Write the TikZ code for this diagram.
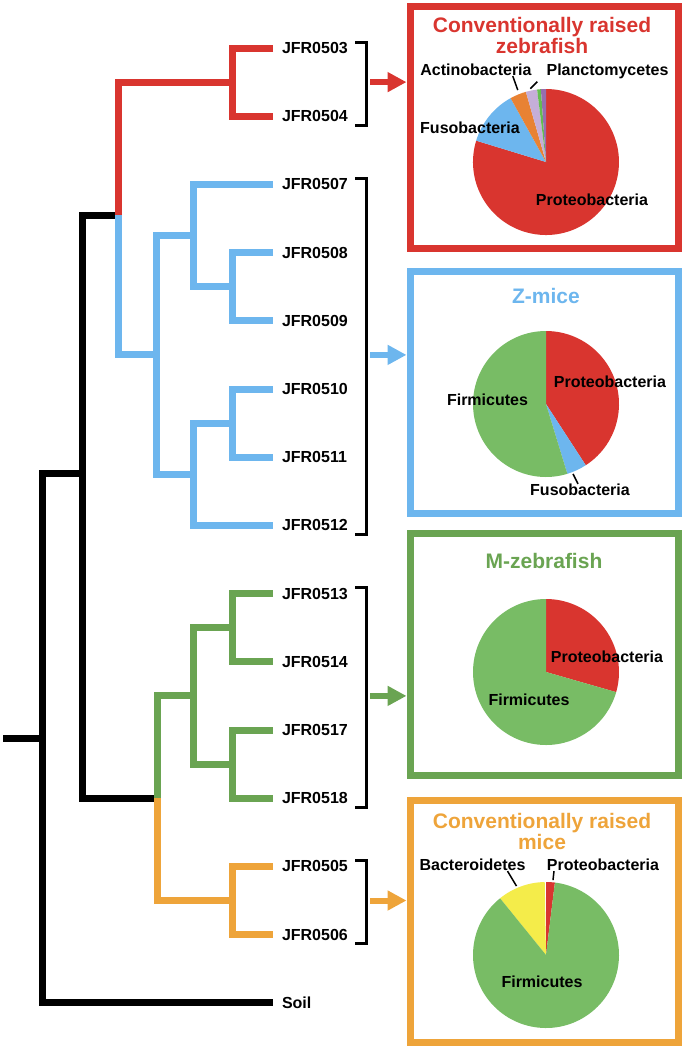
\documentclass[tikz,border=0pt]{standalone}
\usepackage{fontspec}
\setmainfont{Liberation Sans}
\usetikzlibrary{arrows.meta}
\definecolor{treered}{RGB}{217,53,47}
\definecolor{treeblue}{RGB}{109,182,238}
\definecolor{treegreen}{RGB}{106,164,82}
\definecolor{treeorange}{RGB}{238,164,58}
\definecolor{piegreen}{RGB}{120,188,101}
\definecolor{pieorange}{RGB}{232,130,52}
\definecolor{pieyellow}{RGB}{244,236,74}
\definecolor{pielilac}{RGB}{197,174,216}
\definecolor{piepurple}{RGB}{150,110,175}
\definecolor{piesmall}{RGB}{100,190,80}
% slice of a pie: centre, from, to (degrees, counter-clockwise), colour
\newcommand{\pieslice}[4]{\fill[#4] (#1) -- ++({-(#2)}:73) arc[start angle={-(#2)}, end angle={-(#3)}, radius=73] -- cycle;}

\begin{document}
\begin{tikzpicture}[x=1pt, y=-1pt,
    br/.style={line width=7pt, line join=miter},
    leaf/.style={anchor=west, inner xsep=9pt, inner ysep=0pt, outer sep=0pt,
                 font=\fontsize{16}{19}\selectfont\bfseries},
    brk/.style={line width=3pt, line join=miter},
    arr/.style={line width=6pt, -{Triangle[length=19pt, width=19pt]}},
    panel/.style={rectangle, line width=7pt, minimum width=268pt,
                  minimum height=242pt, inner sep=0pt},
    ttl/.style={font=\fontsize{21}{21}\selectfont\bfseries, align=center, inner sep=0pt},
    plab/.style={font=\fontsize{16}{19}\selectfont\bfseries, inner sep=0pt},
    lead/.style={line width=1.5pt}
]
\useasboundingbox (0,0) rectangle (686,1050);
% leaves
\foreach \lab/\k in {JFR0503/0, JFR0504/1, JFR0507/2, JFR0508/3, JFR0509/4,
                     JFR0510/5, JFR0511/6, JFR0512/7, JFR0513/8, JFR0514/9,
                     JFR0517/10, JFR0518/11, JFR0505/12, JFR0506/13, Soil/14}{
    \node[leaf] (L\k) at (273,{48+68.2*\k}) {\lab};
}
% inner nodes
\coordinate (r1) at (232,82.1);
\coordinate (b1) at (232,286.7);
\coordinate (b2) at (193,235.5);
\coordinate (b3) at (232,423.1);
\coordinate (b4) at (193,474.3);
\coordinate (b5) at (156,354.9);
\coordinate (g1) at (232,627.7);
\coordinate (g2) at (232,764.1);
\coordinate (g3) at (193,695.9);
\coordinate (o1) at (232,900.5);
\coordinate (k1) at (118,215);
\coordinate (k2) at (157,798.2);
\coordinate (k3) at (82,473);
\coordinate (k4) at (42,738);
\coordinate (root) at (3,738);
% black backbone
\draw[br] (k1) -| (k3) |- (k2);
\draw[br] (k3) -| (k4) |- (L14.west);
\draw[br] (root) -- (k4);
% red clade
\draw[br, treered] (L0.west) -| (r1) |- (L1.west);
\draw[br, treered] (r1) -| (k1);
% blue clade
\draw[br, treeblue] (L3.west) -| (b1) |- (L4.west);
\draw[br, treeblue] (L2.west) -| (b2) |- (b1);
\draw[br, treeblue] (L5.west) -| (b3) |- (L6.west);
\draw[br, treeblue] (b3) -| (b4) |- (L7.west);
\draw[br, treeblue] (b2) -| (b5) |- (b4);
\draw[br, treeblue] (b5) -| (k1);
% green clade
\draw[br, treegreen] (L8.west) -| (g1) |- (L9.west);
\draw[br, treegreen] (L10.west) -| (g2) |- (L11.west);
\draw[br, treegreen] (g1) -| (g3) |- (g2);
\draw[br, treegreen] (g3) -| (k2);
% orange clade
\draw[br, treeorange] (L12.west) -| (o1) |- (L13.west);
\draw[br, treeorange] (o1) -| (k2);
% brackets
\foreach \a/\b in {0/1, 2/7, 8/11, 12/13}{
    \draw[brk] ([xshift=82pt, yshift=6pt]L\a.west) -- ++(11,0) |- ([xshift=82pt, yshift=-9pt]L\b.west);
}
% panels
\node[panel, draw=treered] (bxR) at (544,127.5) {};
\node[panel, draw=treeblue] (bxB) at (544,392) {};
\node[panel, draw=treegreen] (bxG) at (544,654) {};
\node[panel, draw=treeorange] (bxO) at (544,921.5) {};
% arrows
\coordinate (aR) at (370,82.1);
\coordinate (aB) at (370,354.9);
\coordinate (aG) at (370,695.9);
\coordinate (aO) at (370,900.5);
\draw[arr, treered] (aR) -- (aR -| bxR.west);
\draw[arr, treeblue] (aB) -- (aB -| bxB.west);
\draw[arr, treegreen] (aG) -- (aG -| bxG.west);
\draw[arr, treeorange] (aO) -- (aO -| bxO.west);
% titles
\node[ttl, text=treered, anchor=north] (tR) at (542,16.8) {Conventionally raised\\zebrafish};
\node[ttl, text=treeblue, anchor=base] (tB) at (546,303) {Z-mice};
\node[ttl, text=treegreen, anchor=base] (tG) at (544,568) {M-zebrafish};
\node[ttl, text=treeorange, anchor=north] (tO) at (542,812.8) {Conventionally raised\\mice};
% pies
\coordinate (pR) at (546,162);
\coordinate (pB) at (546,404);
\coordinate (pG) at (546,672);
\coordinate (pO) at (546,955);
\foreach \a/\b/\c in {163/450/treered, 119/163/treeblue, 106/119/pieorange,
                      97/106/pielilac, 94/97/piesmall, 90/94/piepurple}{
    \pieslice{pR}{\a}{\b}{\c}
}
\foreach \a/\b/\c in {-57/90/treered, -73/-57/treeblue, 90/287/piegreen}{
    \pieslice{pB}{\a}{\b}{\c}
}
\foreach \a/\b/\c in {-16/90/treered, 90/344/piegreen}{
    \pieslice{pG}{\a}{\b}{\c}
}
\foreach \a/\b/\c in {83/90/treered, 91/129/pieyellow, 129/443/piegreen}{
    \pieslice{pO}{\a}{\b}{\c}
}
% pie labels
\node[plab] (proR) at (592,200) {Proteobacteria};
\node[plab] (fusR) at (470,128) {Fusobacteria};
\node[plab] (actR) at (476,70) {Actinobacteria};
\node[plab] (plaR) at (607.5,71) {Planctomycetes};
\draw[lead] ([xshift=-19pt]actR.south east) -- ++(5,14);
\draw[lead] ([xshift=-9pt, yshift=-3pt]plaR.south west) -- ++(-7,7);
\node[plab] (proB) at (610,382) {Proteobacteria};
\node[plab] (firB) at (487.5,400) {Firmicutes};
\node[plab] (fusB) at (580,490) {Fusobacteria};
\draw[lead] ([xshift=-2pt]fusB.north) -- ++(-5,-10);
\node[plab] (proG) at (607,657) {Proteobacteria};
\node[plab] (firG) at (529,700) {Firmicutes};
\node[plab] (bacO) at (472.5,865) {Bacteroidetes};
\node[plab] (proO) at (603,865) {Proteobacteria};
\node[plab] (firO) at (542,982) {Firmicutes};
\draw[lead] ([xshift=35pt]bacO.south) -- ++(9,15);
\draw[lead] ([xshift=-49pt]proO.south) -- ++(-1,9);
\end{tikzpicture}
\end{document}
